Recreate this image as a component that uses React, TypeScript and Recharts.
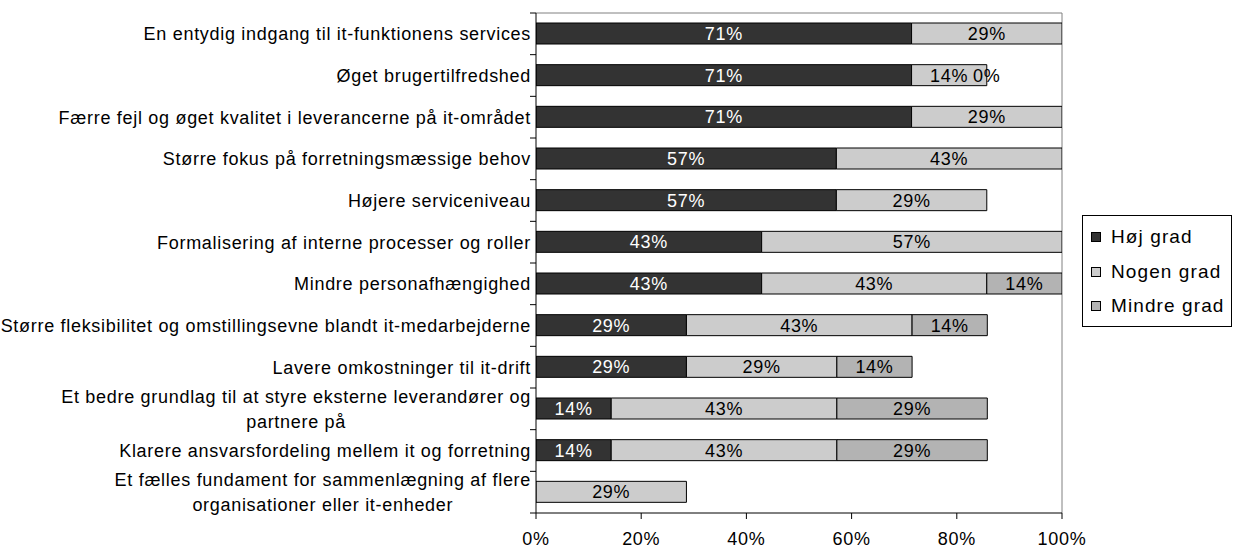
import React from "react";
import { BarChart, Bar, XAxis, YAxis, LabelList, ReferenceArea } from "recharts";

const categories = [
  "En entydig indgang til it-funktionens services",
  "Øget brugertilfredshed",
  "Færre fejl og øget kvalitet i leverancerne på it-området",
  "Større fokus på forretningsmæssige behov",
  "Højere serviceniveau",
  "Formalisering af interne processer og roller",
  "Mindre personafhængighed",
  "Større fleksibilitet og omstillingsevne blandt it-medarbejderne",
  "Lavere omkostninger til it-drift",
  "Et bedre grundlag til at styre eksterne leverandører og\npartnere på",
  "Klarere ansvarsfordeling mellem it og forretning",
  "Et fælles fundament for sammenlægning af flere\norganisationer eller it-enheder",
];

const hojGrad: (number | null)[] = [71.4, 71.4, 71.4, 57.1, 57.1, 42.9, 42.9, 28.6, 28.6, 14.3, 14.3, null];
const nogenGrad: (number | null)[] = [28.6, 14.3, 28.6, 42.9, 28.6, 57.1, 42.8, 42.9, 28.6, 42.9, 42.9, 28.6];
const mindreGrad: (number | null)[] = [null, 0, null, null, null, null, 14.3, 14.3, 14.3, 28.6, 28.6, null];

const seriesNames = ["Høj grad", "Nogen grad", "Mindre grad"];
const xTicks = [0, 20, 40, 60, 80, 100];

const COLORS = ["#333333", "#cccccc", "#b3b3b3"];
const FONT = "'Liberation Sans', Arial, sans-serif";
const FS = 18;
const LS = 0.7;

const data = categories.map((c, i) => ({
  name: c,
  hoj: hojGrad[i],
  nogen: nogenGrad[i],
  mindre: mindreGrad[i],
}));

let ctxCache: CanvasRenderingContext2D | null = null;
function measure(t: string): number {
  if (!ctxCache) {
    const c = document.createElement("canvas");
    ctxCache = c.getContext("2d");
  }
  const ctx = ctxCache as any;
  if (!ctx) return t.length * 9;
  ctx.font = `${FS}px 'Liberation Sans'`;
  try { ctx.letterSpacing = `${LS}px`; } catch (e) {}
  return ctx.measureText(t).width;
}

const PLOT_H = 500;

const textStyle = { fontFamily: FONT, fontSize: FS, letterSpacing: `${LS}px` } as any;

const YTick = (props: any) => {
  const { x, y, payload, index } = props;
  const axisX = x + 5;
  const step = PLOT_H / categories.length;
  const lines = String(payload.value).split("\n");
  const textEls: any[] = [];
  if (lines.length === 1) {
    textEls.push(
      <text key="l0" x={x} y={y} dy="0.355em" textAnchor="end" fill="#000" style={textStyle}>{lines[0]}</text>
    );
  } else {
    const widths = lines.map(measure);
    const maxW = Math.max(...widths);
    const cx = x - maxW / 2;
    const lh = 25;
    lines.forEach((ln, i) => {
      const ly = y + (i - (lines.length - 1) / 2) * lh;
      textEls.push(
        <text key={"l" + i} x={cx} y={ly} dy="0.355em" textAnchor="middle" fill="#000" style={textStyle}>{ln}</text>
      );
    });
  }
  return (
    <g>
      <line x1={axisX - 6} x2={axisX} y1={y - step / 2} y2={y - step / 2} stroke="#000" />
      {index === categories.length - 1 && (
        <line x1={axisX - 6} x2={axisX} y1={y + step / 2} y2={y + step / 2} stroke="#000" />
      )}
      {textEls}
    </g>
  );
};

const labelText = (key: string, cx: number, cy: number, color: string, v: number) => (
  <text key={key} x={cx} y={cy} dy="0.355em" textAnchor="middle" fill={color} style={textStyle}>
    {Math.round(v)}%
  </text>
);

const hojLabel = (props: any) => {
  const { x, y, width, height, value } = props;
  if (value === null || value === undefined) return null;
  return labelText("h", Number(x) + Number(width) / 2, Number(y) + Number(height) / 2, "#ffffff", Number(value));
};

// Nogen grad label; also shows a zero-valued "Mindre grad" label at the end of the segment
const nogenLabel = (props: any) => {
  const { x, y, width, height, value, index } = props;
  if (value === null || value === undefined) return null;
  const cy = Number(y) + Number(height) / 2;
  const zeroNext = typeof index === "number" && mindreGrad[index] === 0;
  return (
    <g>
      {labelText("n", Number(x) + Number(width) / 2, cy, "#000", Number(value))}
      {zeroNext && labelText("z", Number(x) + Number(width), cy, "#000", 0)}
    </g>
  );
};

const mindreLabel = (props: any) => {
  const { x, y, width, height, value } = props;
  if (value === null || value === undefined || Number(value) === 0) return null;
  return labelText("m", Number(x) + Number(width) / 2, Number(y) + Number(height) / 2, "#000", Number(value));
};

const BorderShape = (props: any) => {
  const { x, y, width, height } = props;
  return (
    <path d={`M${x},${y}H${x + width}V${y + height}`} fill="none" stroke="#808080" strokeWidth={1} />
  );
};

const LegendBox = () => (
  <div
    style={{
      position: "absolute",
      left: 1082,
      top: 215,
      border: "1px solid #000",
      width: 150,
      height: 112,
      boxSizing: "border-box",
      background: "#fff",
      paddingTop: 4,
      fontFamily: FONT,
    }}
  >
    {seriesNames.map((n, i) => (
      <div key={n} style={{ display: "flex", alignItems: "center", height: 34.5, paddingLeft: 8 }}>
        <div style={{ width: 10, height: 10, background: COLORS[i], border: "1px solid #000", boxSizing: "border-box", marginRight: 10 }} />
        <span style={{ fontSize: 19, letterSpacing: "1.1px", color: "#000", lineHeight: "20px" }}>{n}</span>
      </div>
    ))}
  </div>
);

export default function App() {
  return (
    <div style={{ position: "absolute", left: 0, top: 0, width: 1233, height: 550, background: "#fff" }}>
      <BarChart
        width={1233}
        height={550}
        data={data}
        layout="vertical"
        margin={{ top: 13, right: 171, bottom: 0, left: 0 }}
        barSize={21}
      >
        <ReferenceArea x1={0} x2={100} shape={<BorderShape />} ifOverflow="visible" />
        <XAxis
          type="number"
          domain={[0, 100]}
          ticks={xTicks}
          allowDataOverflow
          tickFormatter={(v: number) => `${v}%`}
          axisLine={{ stroke: "#000" }}
          tickLine={{ stroke: "#000" }}
          tickSize={6}
          tickMargin={13}
          height={37}
          tick={{ fill: "#000", fontSize: FS, fontFamily: FONT, letterSpacing: `${LS}px` } as any}
        />
        <YAxis
          type="category"
          dataKey="name"
          width={536}
          axisLine={{ stroke: "#000" }}
          tickLine={false}
          tickSize={0}
          tickMargin={5}
          interval={0}
          tick={<YTick />}
        />
        <Bar dataKey="hoj" name={seriesNames[0]} stackId="a" fill={COLORS[0]} stroke="#000" strokeWidth={1} isAnimationActive={false}>
          <LabelList dataKey="hoj" content={hojLabel} />
        </Bar>
        <Bar dataKey="nogen" name={seriesNames[1]} stackId="a" fill={COLORS[1]} stroke="#000" strokeWidth={1} isAnimationActive={false}>
          <LabelList dataKey="nogen" content={nogenLabel} />
        </Bar>
        <Bar dataKey="mindre" name={seriesNames[2]} stackId="a" fill={COLORS[2]} stroke="#000" strokeWidth={1} isAnimationActive={false}>
          <LabelList dataKey="mindre" content={mindreLabel} />
        </Bar>
      </BarChart>
      <LegendBox />
    </div>
  );
}
